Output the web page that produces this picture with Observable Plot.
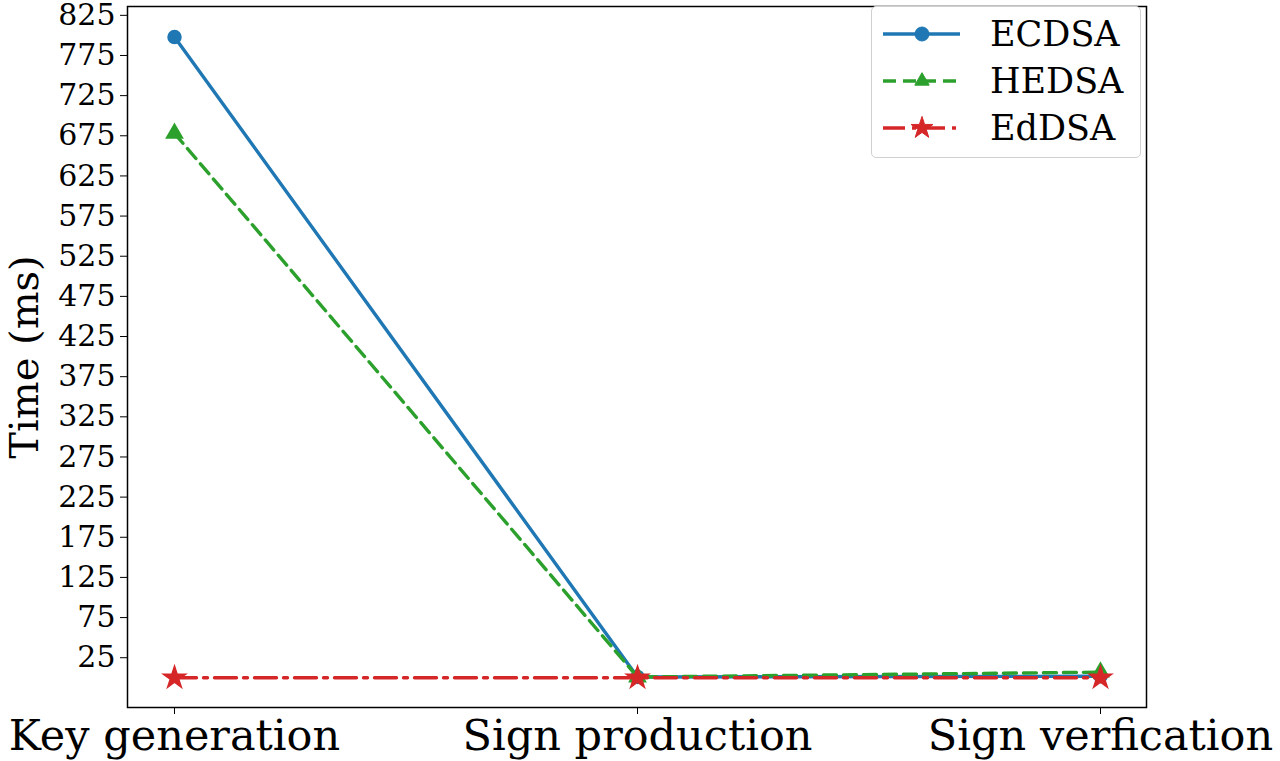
<!DOCTYPE html>
<html>
<head>
<meta charset="utf-8">
<script src="https://cdn.jsdelivr.net/npm/d3@7"></script>
<script src="https://cdn.jsdelivr.net/npm/@observablehq/plot@0.6"></script>
<style>
  body { margin: 0; background: white; }
  #wrap { position: relative; width: 1280px; height: 761px; }
  #legend { position: absolute; left: 871px; top: 6px; width: 270px; height: 152px;
    border: 1.5px solid #d0d0d0; border-radius: 5px; background: white; box-sizing: border-box; }
</style>
</head>
<body>
<div id="wrap"><div id="legend"></div></div>
<script>
const categories = ["Key generation", "Sign production", "Sign verfication"];
const seriesNames = ["ECDSA", "HEDSA", "EdDSA"];
const ecdsa = [798, 1, 2];
const hedsa = [678, 1, 7];
const eddsa = [0, 0, 0];
const yTicks = d3.range(25, 826, 50);

const colors = {ECDSA: "#1f77b4", HEDSA: "#2ca02c", EdDSA: "#d62728"};
const dashes = {ECDSA: null, HEDSA: "13,7", EdDSA: "22,7,4,7"};
const symbols = {ECDSA: "circle", HEDSA: "triangle", EdDSA: "star"};
const radii = {ECDSA: 6.5, HEDSA: 6, EdDSA: 7};
const valuesBySeries = {ECDSA: ecdsa, HEDSA: hedsa, EdDSA: eddsa};

const marks = [];
for (const s of seriesNames) {
  const data = categories.map((c, i) => ({category: c, value: valuesBySeries[s][i]}));
  marks.push(Plot.line(data, {x: "category", y: "value", stroke: colors[s], strokeWidth: 3.4,
    strokeDasharray: dashes[s]}));
  marks.push(Plot.dot(data, {x: "category", y: "value", fill: colors[s], stroke: colors[s],
    symbol: () => symbols[s], r: radii[s]}));
}

const chart = Plot.plot({
  width: 1280,
  height: 761,
  marginLeft: 127,
  marginRight: 134,
  marginTop: 6,
  marginBottom: 54,
  style: {fontFamily: "DejaVu Serif", background: "white", color: "black", overflow: "visible"},
  x: {type: "point", domain: categories, padding: 0.1},
  y: {domain: [-37, 836]},
  marks: [
    Plot.axisY({ticks: yTicks, tickFormat: d => String(d), fontSize: 30, tickSize: 7, tickPadding: 5, label: null}),
    Plot.axisX({fontSize: 43, tickSize: 7, tickPadding: 5, label: null}),
    Plot.text(["Time (ms)"], {frameAnchor: "left", textAnchor: "middle", rotate: -90, dx: -102, fontSize: 40, fill: "black"}),
    ...marks,
    Plot.frame({stroke: "black", strokeWidth: 1.5})
  ]
});
document.getElementById("wrap").prepend(chart);

// Legend
const lg = d3.select("#legend").append("svg").attr("width", 268).attr("height", 150)
  .style("font-family", "DejaVu Serif");
const symGen = {
  circle: d3.symbol(d3.symbolCircle, Math.PI * 49),
  triangle: d3.symbol(d3.symbolTriangle, 90),
  star: d3.symbol(d3.symbolStar, 150)
};
seriesNames.forEach((s, i) => {
  const y = 27 + i * 47;
  lg.append("line").attr("x1", 11).attr("x2", 88).attr("y1", y).attr("y2", y)
    .attr("stroke", colors[s]).attr("stroke-width", 3.4)
    .attr("stroke-dasharray", dashes[s]);
  lg.append("path").attr("d", symGen[symbols[s]]()).attr("transform", `translate(50,${y})`)
    .attr("fill", colors[s]).attr("stroke", colors[s]);
  lg.append("text").attr("x", 118).attr("y", y).attr("dy", "0.35em").attr("font-size", 35)
    .attr("fill", "black").text(s);
});
</script>
</body>
</html>
